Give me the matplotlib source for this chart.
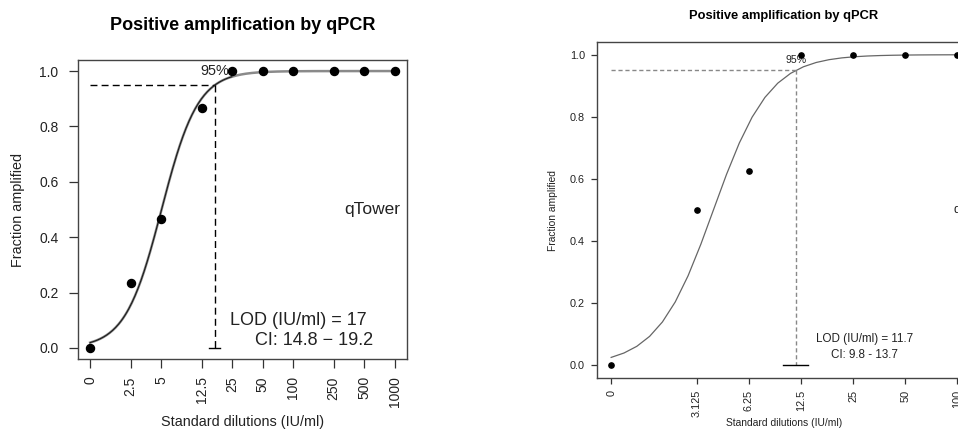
import numpy as np
import matplotlib
matplotlib.use('Agg')
import matplotlib.pyplot as plt

plt.rcParams['font.family'] = ['Liberation Sans', 'DejaVu Sans']

# === Data ===
# left panel (qTower)
dil_left = [0, 2.5, 5, 12.5, 25, 50, 100, 250, 500, 1000]
frac_left = [0.0, 0.233, 0.466, 0.868, 1.0, 1.0, 1.0, 1.0, 1.0, 1.0]
labels_left = ['0', '2.5', '5', '12.5', '25', '50', '100', '250', '500', '1000']
lod_left = 17
ci_left = (14.8, 19.2)
x50_left = 5.05

# right panel (cut off at the right edge)
dil_right = [0, 3.125, 6.25, 12.5, 25, 50, 100]
frac_right = [0.0, 0.5, 0.625, 1.0, 1.0, 1.0, 1.0]
labels_right = ['0', '3.125', '6.25', '12.5', '25', '50', '100']
lod_right = 11.7
ci_right = (9.8, 13.7)
x50_right = 3.9

LOGIT95 = np.log(0.95 / 0.05)


def fit_curve(x50, lod, xmax, n):
    # logistic fit in log10 dose; 0 is drawn at position 1
    b = LOGIT95 / (np.log10(lod) - np.log10(x50))
    lx = np.linspace(0, np.log10(xmax), n)
    return 10 ** lx, 1 / (1 + np.exp(-b * (lx - np.log10(x50))))


def pos(d):
    return [1 if v == 0 else v for v in d]


def style_axes(ax, dil, labels, decades, fs, tl, ypad):
    pad = decades * 0.04
    ax.set_xscale('log')
    ax.set_xlim(10 ** -pad, 10 ** (decades + pad))
    ax.set_ylim(-0.04, 1.04)
    ax.set_xticks(pos(dil))
    ax.set_xticklabels(labels, rotation=90)
    ax.minorticks_off()
    ax.set_yticks([0, 0.2, 0.4, 0.6, 0.8, 1.0])
    ax.set_yticklabels(['0.0', '0.2', '0.4', '0.6', '0.8', '1.0'])
    ax.tick_params(labelsize=fs, length=tl, width=0.9, color='#333333',
                   labelcolor='#222222', pad=tl * 0.9)
    ax.tick_params(axis='y', pad=ypad)
    for s in ax.spines.values():
        s.set_color('#444444')
        s.set_linewidth(1.0)


fig = plt.figure(figsize=(9.58, 4.3), dpi=100)

# ---- left panel ----
ax1 = fig.add_axes([0.0814, 0.1651, 0.3434, 0.6954])
style_axes(ax1, dil_left, labels_left, 3, 10, 6.5, 7.5)
cx, cy = fit_curve(x50_left, lod_left, 1000, 300)
ax1.plot(cx, cy, color='#8a8a8a', lw=1.8, zorder=2)
m = cx <= 25
ax1.plot(cx[m], cy[m], color='#1a1a1a', lw=0.8, zorder=3)
ax1.plot(pos(dil_left), frac_left, 'o', color='black', ms=5.8, zorder=4)
ax1.plot([1, lod_left], [0.95, 0.95], color='black', lw=1, ls=(0, (5, 3)))
ax1.plot([lod_left, lod_left], [0.95, 0], color='black', lw=1, ls=(0, (5, 3)))
ax1.plot(ci_left, [0, 0], color='black', lw=1)
ax1.text(lod_left, 1.0, '95%', ha='center', va='center', fontsize=10.4, color='#222222')
ax1.text(0.979, 0.5, 'qTower', transform=ax1.transAxes, ha='right', va='center',
         fontsize=12.5, color='#222222')
ax1.text(0.462, 0.130, 'LOD (IU/ml) = 17', transform=ax1.transAxes, ha='left',
         va='center', fontsize=13, color='#222222')
ax1.text(0.538, 0.0635, 'CI: 14.8 \u2212 19.2', transform=ax1.transAxes, ha='left',
         va='center', fontsize=13, color='#222222')
fig.text(0.2537, 1 - 25 / 430, 'Positive amplification by qPCR', ha='center',
         va='center', fontsize=13, fontweight='bold')
fig.text(0.2537, 1 - 421.7 / 430, 'Standard dilutions (IU/ml)', ha='center',
         va='center', fontsize=10.4, color='#222222')
fig.text(0.0188, 0.5116, 'Fraction amplified', ha='center', va='center',
         rotation=90, fontsize=10.4, color='#222222')

# ---- right panel ----
ax2 = fig.add_axes([0.6235, 0.1216, 0.3901, 0.78])
style_axes(ax2, dil_right, labels_right, 2, 7.8, 4.5, 4.5)
cx, cy = fit_curve(x50_right, lod_right, 100, 28)
ax2.plot(cx, cy, color='#666666', lw=0.9, zorder=2)
ax2.plot(pos(dil_right), frac_right, 'o', color='black', ms=3.8, zorder=4)
ax2.plot([1, lod_right], [0.95, 0.95], color='#888888', lw=1, ls=(0, (3, 2)))
ax2.plot([lod_right, lod_right], [0.95, 0], color='#888888', lw=1, ls=(0, (3, 2)))
ax2.plot(ci_right, [0, 0], color='black', lw=1)
ax2.text(lod_right, 0.984, '95%', ha='center', va='center', fontsize=7.6, color='#222222')
ax2.text(0.953, 0.5, 'qTower', transform=ax2.transAxes, ha='left', va='center',
         fontsize=9, color='#222222')
ax2.text(0.716, 0.1145, 'LOD (IU/ml) = 11.7', transform=ax2.transAxes, ha='center',
         va='center', fontsize=8.4, color='#222222')
ax2.text(0.716, 0.0668, 'CI: 9.8 - 13.7', transform=ax2.transAxes, ha='center',
         va='center', fontsize=8.4, color='#222222')
fig.text(784 / 958, 1 - 16 / 430, 'Positive amplification by qPCR', ha='center',
         va='center', fontsize=9.3, fontweight='bold')
fig.text(784 / 958, 1 - 423 / 430, 'Standard dilutions (IU/ml)', ha='center',
         va='center', fontsize=7.4, color='#222222')
fig.text(552.7 / 958, 0.5116, 'Fraction amplified', ha='center', va='center',
         rotation=90, fontsize=7.4, color='#222222')

fig.savefig('out.png', dpi=100)
plt.close(fig)
